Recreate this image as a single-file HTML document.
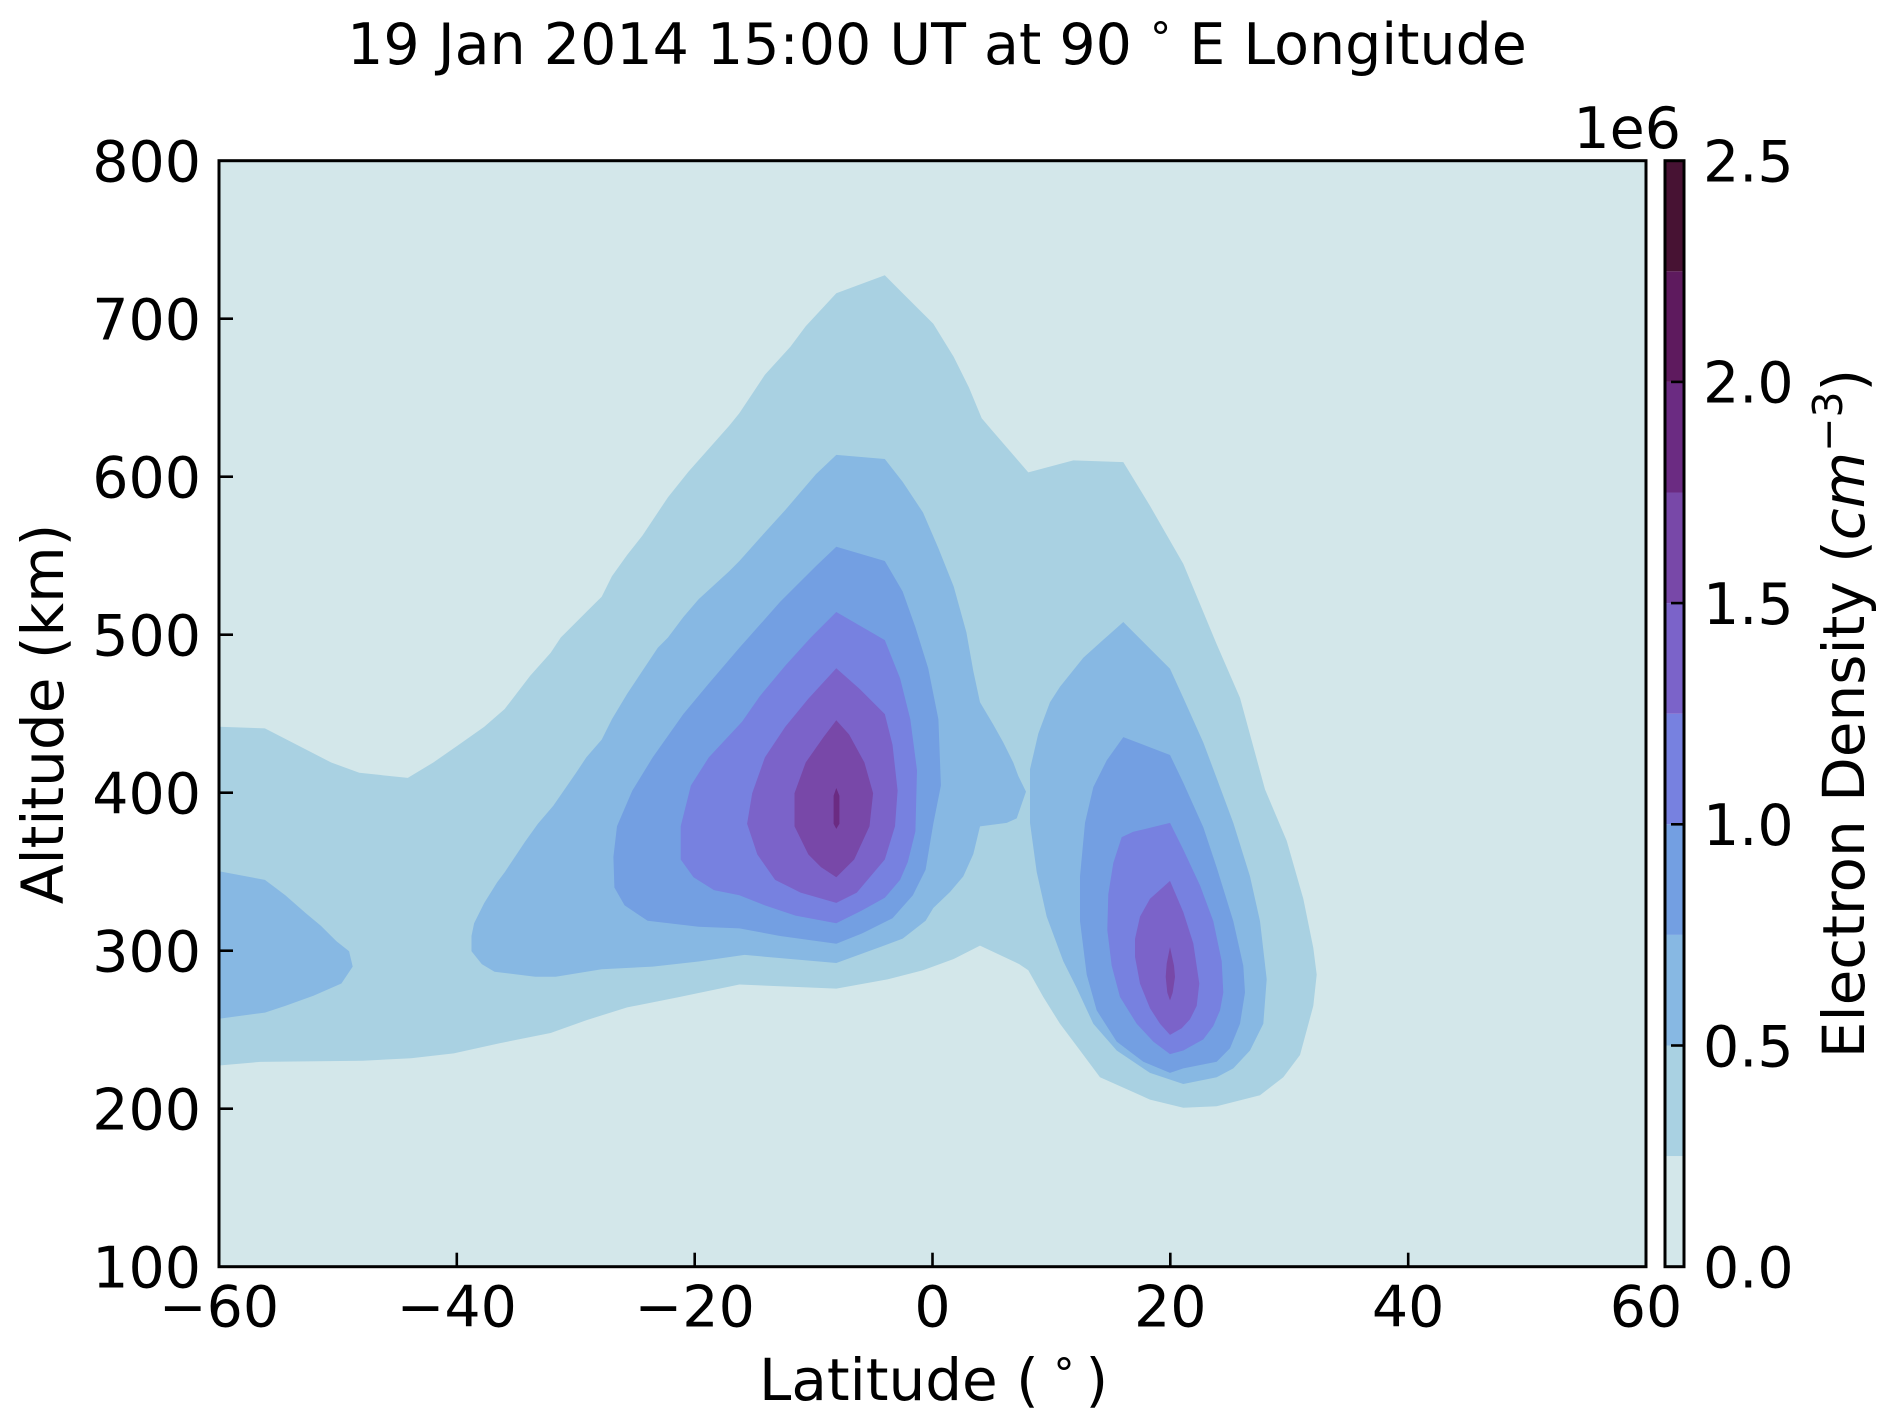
<!DOCTYPE html>
<html>
<head>
<meta charset="utf-8">
<style>
  html, body { margin:0; padding:0; background:#ffffff; }
  svg { display:block; }
  text { font-family: "DejaVu Sans", "Liberation Sans", sans-serif; fill:#000; }
</style>
</head>
<body>
<svg width="1892" height="1426" viewBox="0 0 1892 1426" xmlns="http://www.w3.org/2000/svg">
  <rect x="0" y="0" width="1892" height="1426" fill="#ffffff"/>

  <!-- Title -->
  <text x="937" y="64" font-size="57" text-anchor="middle">19 Jan 2014 15:00 UT at 90 <tspan font-size="42" dy="-12">°</tspan><tspan dy="12"> E Longitude</tspan></text>

  <!-- Plot background (level 0 - 0.25) -->
  <rect x="219" y="160.7" width="1427" height="1106" fill="#d3e7ea"/>

  <!-- Level 0.25 -->
  <polygon fill="#a9d1e2" points="219,726.8 264.9,728.4 331.2,762.5 359.3,772.8 407.8,777.9 433.3,762.5 458.8,744.7 484.3,726.8 504.7,709 530.2,675.8 550.6,652.9 560.8,637.5 586.3,612 601.7,596.7 611.9,576.3 627.2,554.9 642.5,535.5 657.8,512.5 668,497.2 688.4,471.7 708.8,448.8 729.2,425.8 739.4,413.1 764.9,374.8 790.4,346.7 805.7,326.3 836.3,293.2 884.8,275.3 902.7,293.2 933.3,323.8 953.7,356.9 969,387.6 981.7,418.2 991.7,430 1028.3,472.4 1073.3,460.4 1123.3,462.1 1150,505.9 1183.3,563.9 1216.7,644.3 1240,697.9 1265,789.4 1286.7,840.7 1303.3,898.8 1313.3,947.9 1316.7,974.6 1313.3,1005.9 1300,1055 1283.3,1077.3 1260,1095.2 1216.7,1106.3 1183.3,1107.7 1150,1099.6 1100,1077.3 1076.7,1046 1060,1023.8 1043.3,997 1028.3,970.2 1019,964 980,945.6 953.7,959 923,970.2 887.4,979.4 836.3,988.6 739.4,984.5 678.2,997.2 627.2,1007.4 586.3,1020.2 550.6,1033 499.6,1043.2 453.7,1053.4 411,1058.3 362.7,1060.7 260,1061.9 219,1065.5"/>

  <!-- Level 0.5 -->
  <g fill="#87b8e3">
    <polygon points="219,871.2 264.9,879.9 285.3,895.2 305.7,913.1 321,925.9 336.3,941.1 349.1,951.3 352.7,966.6 341.4,983.5 313.4,995.7 285.3,1005.9 264.9,1012.6 219,1018.7"/>
    <polygon points="471.5,936 474.1,923.3 484.3,902.9 497.1,882.4 504.7,872.2 525.1,841.6 537.9,823.8 553.2,805.9 576.1,772.8 586.3,757.4 601.7,739.6 611.9,719.2 627.2,693.7 637.4,678.4 657.8,647.8 668,637.5 683.3,617.1 698.6,599.3 729.2,571.2 739.4,561 759.8,538.1 785.3,510 815.9,474.3 836.3,454.9 884.8,459 902.7,481.9 923,512.5 938.4,548.3 953.7,586.5 966.4,632.4 973.3,671 980,702.3 993.3,724.6 1003.3,742.5 1013.3,762.6 1018.3,776 1026,791.6 1016.7,818.4 1006.7,822.9 980,826.4 973.3,854.1 963.3,876.4 950,892 933.3,908 925.6,920.7 902.7,938.6 882.3,946.2 836.3,963 744.5,954.9 698.6,961.5 652.7,966.6 601.7,969.2 555.7,976.8 535.3,976.8 494.5,971.7 481.8,964.1 471.5,951.3"/>
    <polygon points="1123.3,622 1170,668.8 1183.3,697.9 1203.3,742.5 1216.7,778.2 1233.3,822.9 1250,876.4 1260,921.1 1266.7,979.1 1263.3,1023.8 1250,1050.5 1233.3,1068.4 1216.7,1077.3 1183.3,1084 1150,1072.9 1116.7,1050.5 1093.3,1023.8 1076.7,988 1063.3,961.2 1046.7,916.6 1036.7,872 1030,822.9 1030,769.3 1038.3,733.6 1050,702.3 1060,686.7 1083.3,657.7 1103.3,639.8"/>
  </g>

  <!-- Level 0.75 -->
  <g fill="#739fe2">
    <polygon points="836.3,546.7 884.8,561 902.7,591.6 915.4,627.3 928.2,668.2 938.4,719.2 940.9,785.5 933.3,823.8 925.6,869.7 912.9,895.2 892.5,918.2 861.9,933.5 836.3,943.7 780.2,936 739.4,928.4 698.6,926.8 647.6,920.7 624.6,905.4 614.4,887.5 613.4,856.9 617,826.3 632.3,790.6 652.7,757.4 683.3,714.1 708.8,683.5 739.4,647.8 759.8,624.8 780.2,601.8 815.9,566.1"/>
    <polygon points="1123.3,737.1 1170,755 1183.3,782.7 1203.3,827.3 1216.7,867.5 1233.3,921.1 1243.3,965.7 1245,992.5 1240,1023.8 1230,1048.3 1216.7,1061.7 1183.3,1068.4 1170,1072.9 1143.3,1061.7 1116.7,1041.6 1096.7,1010.4 1086.7,974.6 1080,921.1 1080,876.4 1085,822.9 1093.3,787.1 1106.7,760.4"/>
  </g>

  <!-- Level 1.0 -->
  <g fill="#7781e0">
    <polygon points="836.3,612 884.8,640.1 900.1,678.4 910.3,719.2 917,770.2 915.4,831.4 907.8,862 900.1,879.9 884.8,897.8 861.9,910.5 836.3,923.3 795.5,915.6 764.9,905.4 739.4,895.2 713.9,890.1 693.5,877.3 680.7,859.5 680.7,826.3 690.9,785.5 708.8,757.4 742,721.7 759.8,696.2 785.3,665.6 810.8,637.5"/>
    <polygon points="1121.7,837.1 1133.3,831.8 1170,822.9 1183.3,849.6 1200,885.4 1213.3,921.1 1221.7,961.2 1223.3,992.5 1220,1010.4 1213.3,1026 1203.3,1039.4 1183.3,1050.5 1170,1054.1 1153.3,1041.6 1136.7,1023.8 1120,997 1111.7,965.7 1107.3,930 1108.3,894.3 1113.3,863"/>
  </g>

  <!-- Level 1.25 -->
  <g fill="#7b63c9">
    <polygon points="836.3,668.2 859.3,688.6 884.8,714.1 892.5,744.7 897.6,790.6 895,826.3 884.8,859.5 856.8,892.6 836.3,902.9 800.6,892.6 775.1,879.9 757.3,854.4 747.1,823.8 752.2,793.2 764.9,757.4 785.3,726.8 808.3,698.8"/>
    <polygon points="1170,880.9 1183.3,912.1 1193.3,943.4 1199.3,983.6 1196.7,1005.9 1190,1019.3 1181.7,1028.2 1170,1034.9 1160,1023.8 1150,1008.2 1140,983.6 1135,956.8 1135,938.9 1140,916.6 1150,898.8"/>
  </g>

  <!-- Level 1.5 -->
  <g fill="#7848a8">
    <polygon points="836.3,720.2 849.1,734.5 864.4,762.5 873.1,793.2 869.5,826.3 854.2,859.5 836.3,877.3 821,867.1 808.3,854.4 794.5,826.3 794.5,793.2 805.7,762.5 823.6,737"/>
    <polygon points="1170,947 1174,965.7 1175,976.9 1172.7,992.5 1170,1000.5 1167.3,992.5 1165.7,976.9 1166.7,963.5"/>
  </g>

  <!-- Level 1.75 -->
  <polygon fill="#6b2b82" points="836.3,788 839.4,795.7 839.4,823.8 836.3,828.9 833.6,823.8 833.6,795.7"/>

  <!-- Ticks (inward) -->
  <g stroke="#000" stroke-width="2.6">
    <line x1="219" y1="318.7" x2="233" y2="318.7"/>
    <line x1="219" y1="476.7" x2="233" y2="476.7"/>
    <line x1="219" y1="634.7" x2="233" y2="634.7"/>
    <line x1="219" y1="792.7" x2="233" y2="792.7"/>
    <line x1="219" y1="950.7" x2="233" y2="950.7"/>
    <line x1="219" y1="1108.7" x2="233" y2="1108.7"/>
    <line x1="456.8" y1="1266.7" x2="456.8" y2="1252.7"/>
    <line x1="694.7" y1="1266.7" x2="694.7" y2="1252.7"/>
    <line x1="932.5" y1="1266.7" x2="932.5" y2="1252.7"/>
    <line x1="1170.3" y1="1266.7" x2="1170.3" y2="1252.7"/>
    <line x1="1408.2" y1="1266.7" x2="1408.2" y2="1252.7"/>
  </g>

  <!-- Axes frame -->
  <rect x="219" y="160.7" width="1427" height="1106" fill="none" stroke="#000" stroke-width="3"/>

  <!-- Y tick labels -->
  <g font-size="57" text-anchor="end">
    <text x="201" y="181.5">800</text>
    <text x="201" y="339.5">700</text>
    <text x="201" y="497.5">600</text>
    <text x="201" y="655.5">500</text>
    <text x="201" y="813.5">400</text>
    <text x="201" y="971.5">300</text>
    <text x="201" y="1129.5">200</text>
    <text x="201" y="1287.5">100</text>
  </g>

  <!-- X tick labels -->
  <g font-size="57" text-anchor="middle">
    <text x="219" y="1326.7">−60</text>
    <text x="456.8" y="1326.7">−40</text>
    <text x="694.7" y="1326.7">−20</text>
    <text x="932.5" y="1326.7">0</text>
    <text x="1170.3" y="1326.7">20</text>
    <text x="1408.2" y="1326.7">40</text>
    <text x="1646" y="1326.7">60</text>
  </g>

  <!-- Axis labels -->
  <text font-size="58" x="759" y="1400">Latitude (<tspan x="1053.5" y="1388" font-size="42">°</tspan><tspan x="1085.5" y="1400">)</tspan></text>
  <text font-size="58" text-anchor="middle" transform="translate(63,714) rotate(-90)">Altitude (km)</text>

  <!-- Colorbar -->
  <g>
    <rect x="1665" y="1156.1" width="19" height="110.6" fill="#d3e7ea"/>
    <rect x="1665" y="1045.5" width="19" height="110.6" fill="#a9d1e2"/>
    <rect x="1665" y="934.9" width="19" height="110.6" fill="#87b8e3"/>
    <rect x="1665" y="824.3" width="19" height="110.6" fill="#739fe2"/>
    <rect x="1665" y="713.7" width="19" height="110.6" fill="#7781e0"/>
    <rect x="1665" y="603.1" width="19" height="110.6" fill="#7b63c9"/>
    <rect x="1665" y="492.5" width="19" height="110.6" fill="#7848a8"/>
    <rect x="1665" y="381.9" width="19" height="110.6" fill="#6b2b82"/>
    <rect x="1665" y="271.3" width="19" height="110.6" fill="#5e1a5e"/>
    <rect x="1665" y="160.7" width="19" height="110.6" fill="#471233"/>
  </g>
  <g stroke="#000" stroke-width="2.6">
    <line x1="1684" y1="1045.5" x2="1671" y2="1045.5"/>
    <line x1="1684" y1="824.3" x2="1671" y2="824.3"/>
    <line x1="1684" y1="603.1" x2="1671" y2="603.1"/>
    <line x1="1684" y1="381.9" x2="1671" y2="381.9"/>
  </g>
  <rect x="1665" y="160.7" width="19" height="1106" fill="none" stroke="#000" stroke-width="3"/>

  <g font-size="57">
    <text x="1703" y="1287.5">0.0</text>
    <text x="1703" y="1066.3">0.5</text>
    <text x="1703" y="845.1">1.0</text>
    <text x="1703" y="623.9">1.5</text>
    <text x="1703" y="402.7">2.0</text>
    <text x="1703" y="181.5">2.5</text>
    <text x="1681" y="148" text-anchor="end">1e6</text>
  </g>

  <text font-size="58" text-anchor="middle" transform="translate(1864,713.5) rotate(-90)">Electron Density (<tspan font-style="italic">cm</tspan><tspan dy="-22" font-size="41">−3</tspan><tspan dy="22">)</tspan></text>
</svg>
</body>
</html>
